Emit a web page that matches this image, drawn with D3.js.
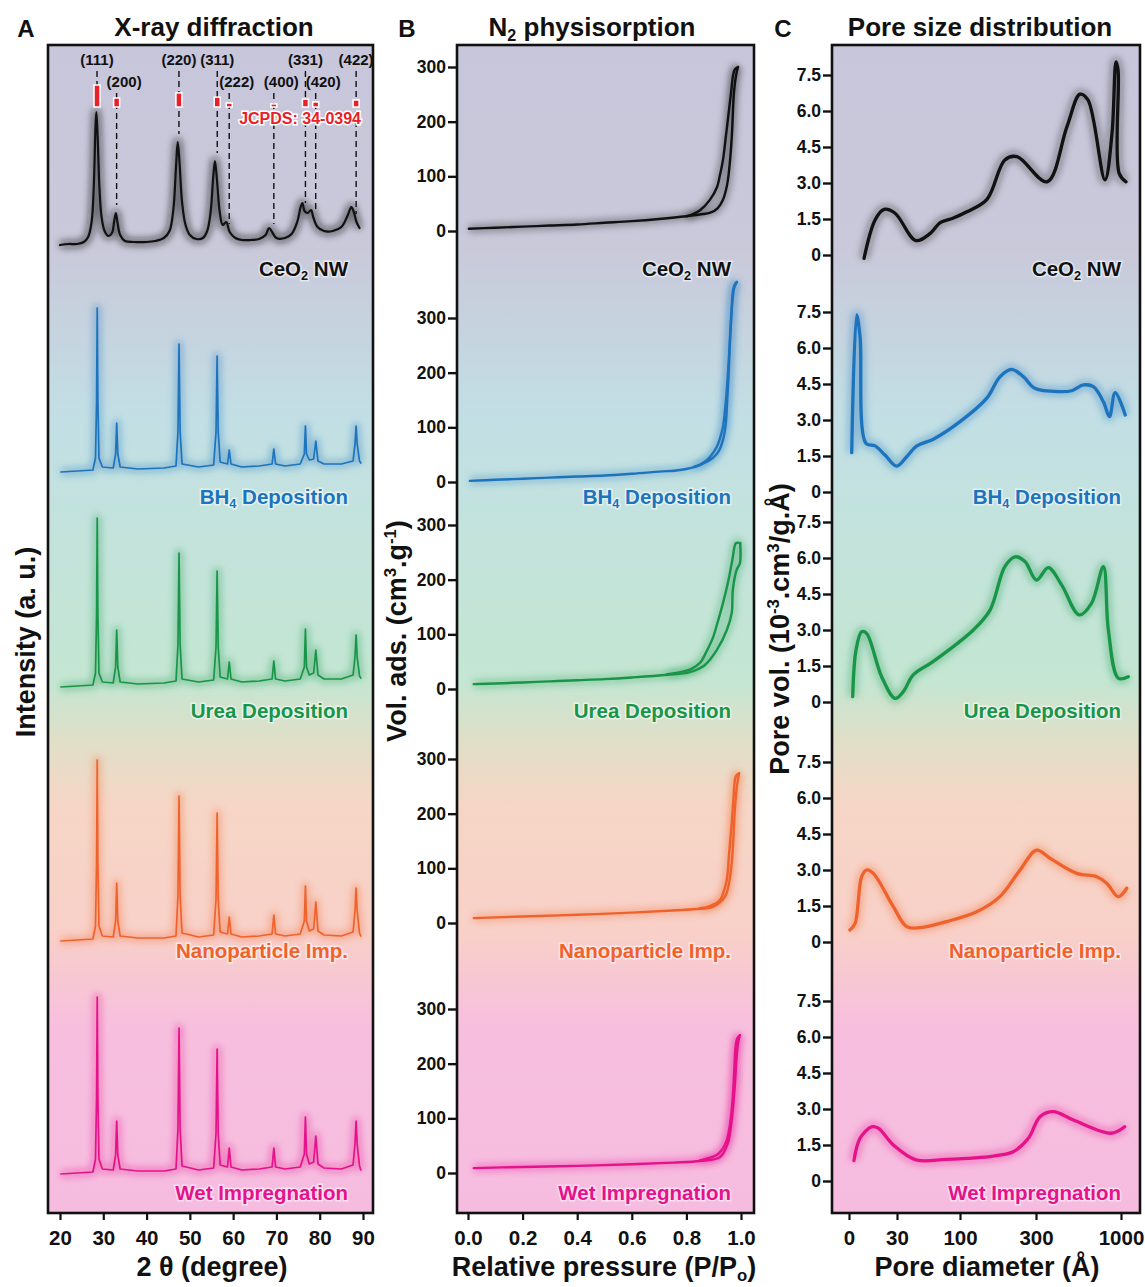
<!DOCTYPE html>
<html>
<head>
<meta charset="utf-8">
<script src="https://cdn.jsdelivr.net/npm/d3@7"></script>
<style>
  body { margin: 0; background: #fff; }
  text { font-family: "Liberation Sans", Arial, Helvetica, sans-serif; font-weight: bold; }
</style>
</head>
<body>
<script>
// ---------- data ----------
const sampleColors = ["#111111", "#1c74bd", "#17964a", "#f0622c", "#e5128b"];
const sampleLabels = [
  [{t: "CeO"}, {t: "2", sub: true}, {t: " NW"}],
  [{t: "BH"}, {t: "4", sub: true}, {t: " Deposition"}],
  [{t: "Urea Deposition"}],
  [{t: "Nanoparticle Imp."}],
  [{t: "Wet Impregnation"}]
];

// XRD reference reflections (JCPDS 34-0394)
const hklLabels = ["(111)", "(200)", "(220)", "(311)", "(222)", "(400)", "(331)", "(420)", "(422)"];
const hklPos = [28.55, 33.08, 47.48, 56.33, 59.09, 69.40, 76.70, 79.07, 88.41];
const hklInt = [100, 41, 64, 45, 18, 14, 36, 23, 32];
const hklLowRow = [false, true, false, false, true, true, false, true, false];

// XRD patterns [2theta, intensity a.u.]
const xrdCeO2 = [[20,2],[22,3],[24,3],[25.5,5],[26.5,10],[27.3,25],[27.8,60],[28.2,120],[28.4,135],[28.7,110],[29.1,60],[29.6,30],[30.3,16],[31.2,11],[32.0,14],[32.5,25],[32.9,34],[33.3,24],[33.9,12],[35,6],[37,5],[40,5],[42,6],[44,9],[45.3,16],[46.2,38],[46.8,80],[47.2,105],[47.6,85],[48.2,45],[49,22],[50,12],[51.5,8],[53,9],[54,16],[54.8,35],[55.4,70],[55.8,86],[56.3,65],[56.9,35],[57.6,22],[58.4,25],[59.2,15],[60.5,9],[62,7],[64,7],[66,8],[67.5,12],[68.3,19],[69,15],[70,9],[72,9],[73.5,13],[74.8,25],[75.6,40],[76,44],[76.5,36],[77.2,34],[78,37],[78.5,30],[79.5,20],[81,16],[83,16],[85,20],[86.5,32],[87.3,40],[87.8,36],[88.5,25],[89.2,19]];
const xrdBH4 = [[20.2,0],[24,1],[27.6,2],[28.2,14],[28.45,70],[28.6,164],[28.75,70],[29.0,14],[29.8,5],[32.3,4],[32.85,18],[33.1,49],[33.35,18],[33.9,5],[38,3],[44,4],[46.8,6],[47.25,40],[47.5,128],[47.75,40],[48.2,8],[52,5],[55.5,7],[56.05,40],[56.3,116],[56.55,40],[57.0,10],[58.7,8],[59.1,22],[59.5,8],[62,5],[66,6],[69.0,8],[69.4,23],[69.8,8],[72,6],[75.5,8],[76.45,18],[76.7,46],[76.95,18],[77.6,12],[78.6,13],[79.1,31],[79.6,11],[81,8],[85,8],[87.7,11],[88.15,28],[88.4,46],[88.65,28],[89.2,11],[89.5,9]];
const xrdUrea = [[20.2,0],[24,1],[27.6,2],[28.2,14],[28.45,72],[28.6,169],[28.75,72],[29.0,14],[29.8,5],[32.3,4],[32.85,20],[33.1,57],[33.35,20],[33.9,5],[38,3],[44,4],[46.8,6],[47.25,42],[47.5,134],[47.75,42],[48.2,8],[52,5],[55.5,7],[56.05,40],[56.3,116],[56.55,40],[57.0,10],[58.7,8],[59.1,25],[59.5,8],[62,5],[66,6],[69.0,8],[69.4,26],[69.8,8],[72,6],[75.5,8],[76.45,20],[76.7,58],[76.95,20],[77.6,12],[78.6,14],[79.1,37],[79.6,12],[81,8],[85,8],[87.7,12],[88.15,30],[88.4,52],[88.65,30],[89.2,11],[89.5,9]];
const xrdNano = [[20.2,0],[24,1],[27.6,2],[28.2,15],[28.45,78],[28.6,181],[28.75,78],[29.0,15],[29.8,5],[32.3,4],[32.85,20],[33.1,58],[33.35,20],[33.9,5],[38,3],[44,3],[46.8,5],[47.25,45],[47.5,145],[47.75,45],[48.2,8],[52,4],[55.5,6],[56.05,42],[56.3,128],[56.55,42],[57.0,9],[58.7,7],[59.1,24],[59.5,7],[62,4],[66,5],[69.0,7],[69.4,26],[69.8,7],[72,5],[75.5,7],[76.45,20],[76.7,55],[76.95,20],[77.6,10],[78.6,12],[79.1,39],[79.6,10],[81,6],[85,5],[87.7,9],[88.15,30],[88.4,53],[88.65,30],[89.2,8],[89.5,5]];
const xrdWet = [[20.2,0],[24,1],[27.6,2],[28.2,15],[28.45,76],[28.6,177],[28.75,76],[29.0,15],[29.8,5],[32.3,4],[32.85,19],[33.1,53],[33.35,19],[33.9,5],[38,3],[44,3],[46.8,5],[47.25,45],[47.5,146],[47.75,45],[48.2,8],[52,4],[55.5,6],[56.05,41],[56.3,125],[56.55,41],[57.0,9],[58.7,7],[59.1,26],[59.5,7],[62,4],[66,5],[69.0,7],[69.4,26],[69.8,7],[72,5],[75.5,7],[76.45,20],[76.7,57],[76.95,20],[77.6,10],[78.6,12],[79.1,38],[79.6,10],[81,6],[85,5],[87.7,9],[88.15,30],[88.4,53],[88.65,30],[89.2,8],[89.5,4]];
const xrdData = [xrdCeO2, xrdBH4, xrdUrea, xrdNano, xrdWet];

// N2 isotherms [P/P0, V cm3/g] adsorption and desorption branches
const adsCeO2 = [[0.003,4],[0.1,6],[0.2,8],[0.3,10],[0.4,12],[0.5,15],[0.6,18],[0.7,22],[0.8,27],[0.86,31],[0.89,34],[0.915,42],[0.934,57],[0.945,75],[0.952,93],[0.96,130],[0.967,179],[0.974,252],[0.982,285],[0.989,300]];
const desCeO2 = [[0.989,300],[0.978,296],[0.971,285],[0.964,255],[0.956,221],[0.945,175],[0.934,130],[0.922,100],[0.912,80],[0.886,57],[0.85,38],[0.82,30],[0.8,27]];
const adsBH4 = [[0.007,2],[0.1,4],[0.2,6],[0.3,8],[0.4,10],[0.5,12],[0.6,15],[0.7,19],[0.777,22],[0.85,31],[0.897,44],[0.92,58],[0.934,77],[0.944,105],[0.949,144],[0.955,200],[0.96,265],[0.966,320],[0.971,351],[0.978,362],[0.985,366]];
const desBH4 = [[0.985,366],[0.975,355],[0.969,333],[0.962,280],[0.953,205],[0.944,145],[0.934,101],[0.922,78],[0.911,64],[0.89,48],[0.875,40],[0.85,32],[0.83,28]];
const adsUrea = [[0.021,9],[0.1,10],[0.2,12],[0.3,14],[0.4,16],[0.5,18],[0.6,21],[0.73,26],[0.813,31],[0.868,44],[0.911,71],[0.948,108],[0.966,139],[0.97,181],[0.984,218],[0.996,230],[0.997,267]];
const desUrea = [[0.997,267],[0.982,267],[0.968,235],[0.954,199],[0.934,157],[0.915,123],[0.898,95],[0.875,70],[0.85,48],[0.815,36],[0.777,31],[0.73,27]];
const adsNano = [[0.021,9],[0.2,12],[0.4,15],[0.6,19],[0.75,23],[0.85,26],[0.898,30],[0.941,48],[0.955,70],[0.966,110],[0.972,155],[0.978,212],[0.985,250],[0.993,274]];
const desNano = [[0.993,274],[0.983,270],[0.978,262],[0.972,225],[0.966,183],[0.957,130],[0.948,79],[0.935,55],[0.923,42],[0.886,31],[0.85,27]];
const adsWet = [[0.021,9],[0.2,11],[0.4,13],[0.6,16],[0.75,19],[0.85,22],[0.923,29],[0.952,55],[0.963,85],[0.971,121],[0.978,165],[0.984,212],[0.99,240],[0.996,252]];
const desWet = [[0.996,252],[0.986,246],[0.98,230],[0.975,185],[0.969,133],[0.96,90],[0.948,60],[0.93,42],[0.911,33],[0.88,27],[0.85,23]];
const isoData = [[adsCeO2, desCeO2], [adsBH4, desBH4], [adsUrea, desUrea], [adsNano, desNano], [adsWet, desWet]];

// pore size distribution [pore diameter A, pore vol 1e-3 cm3/g.A]
const psdCeO2 = [[9.4,-0.14],[16.3,1.46],[21.9,1.9],[28.8,1.74],[51,0.6],[67,0.9],[78,1.35],[92,1.53],[118,1.8],[171,2.32],[218,3.96],[250,4.1],[391,3.05],[555,5.35],[662,6.7],[728,6.46],[868,3.13],[926,5.07],[959,8.05],[976,7.7],[985,3.4],[1041,3.05]];
const psdBH4 = [[1.7,1.64],[4.8,7.38],[6.9,6.47],[10.6,2.03],[16.3,1.92],[22.5,1.54],[29.8,1.08],[40.8,1.47],[52,1.92],[70.4,2.2],[100,2.93],[170,3.9],[205,4.8],[236,5.11],[267,4.8],[297,4.32],[498,4.18],[594,4.22],[690,4.46],[772,4.39],[855,3.76],[905,3.14],[952,4.14],[1035,3.21]];
const psdUrea = [[2.3,0.22],[4.4,2.17],[7.9,2.93],[11,2.86],[20.4,1.05],[28.8,0.15],[37,0.43],[48,1.13],[70,1.68],[135,3.0],[179,3.83],[218,5.64],[245,6.05],[271,5.85],[305,5.08],[401,5.6],[511,4.88],[656,3.63],[757,4.11],[855,5.64],[896,3.0],[978,0.99],[1060,1.05]];
const psdNano = [[0.6,0.5],[3.8,0.78],[7.9,2.72],[11,3.0],[15.2,2.86],[27.7,1.47],[40.8,0.64],[55.6,0.6],[85,0.85],[144,1.26],[205,1.89],[258,3.0],[305,3.83],[415,3.49],[635,2.86],[800,2.72],[882,2.45],[978,1.89],[1047,2.24]];
const psdWet = [[3.1,0.85],[6.9,1.78],[14.2,2.26],[18.3,2.2],[27.7,1.5],[51,0.88],[85,0.9],[188,1.04],[240,1.22],[280,1.78],[333,2.68],[443,2.89],[608,2.54],[917,1.99],[1030,2.26]];
const psdData = [psdCeO2, psdBH4, psdUrea, psdNano, psdWet];

// ticks
const xTicksA = [20, 30, 40, 50, 60, 70, 80, 90];
const xTicksB = [0, 0.2, 0.4, 0.6, 0.8, 1.0];
const yTicksB = [0, 100, 200, 300];
const xTicksC = [0, 30, 100, 300, 1000];
const yTicksC = [0, 1.5, 3.0, 4.5, 6.0, 7.5];

// ---------- layout ----------
const W = 1145, H = 1287;
const frameTop = 45, frameBottom = 1213;
const frames = [{x0: 48, x1: 373}, {x0: 457, x1: 754}, {x0: 832, x1: 1140}];
const baseA = [247, 472, 687, 941, 1174];
const baseB = [231, 482, 689, 923, 1173];
const baseC = [255, 492, 702, 942, 1181];
const labelBaseY = [276, 504, 718, 958, 1200];
const labelRight = [348, 731, 1121];
const bgStops = [[0, "#c8c6da"], [0.175, "#c9c9da"], [0.32, "#c2dfe5"], [0.42, "#c3e3dc"], [0.545, "#c4e6d2"], [0.595, "#e0dfc8"], [0.65, "#f6d6c6"], [0.76, "#f8d0c8"], [0.84, "#f7bfde"], [1, "#f6bce0"]];
const FONT = "'Liberation Sans', Arial, sans-serif";

const svg = d3.select("body").append("svg").attr("width", W).attr("height", H);
const defs = svg.append("defs");

const grad = defs.append("linearGradient").attr("id", "bg")
  .attr("gradientUnits", "userSpaceOnUse")
  .attr("x1", 0).attr("x2", 0).attr("y1", frameTop).attr("y2", frameBottom);
grad.selectAll("stop").data(bgStops).join("stop")
  .attr("offset", d => d[0]).attr("stop-color", d => d[1]);

defs.append("filter").attr("id", "glow")
  .attr("x", "-30%").attr("y", "-30%").attr("width", "160%").attr("height", "160%")
  .append("feGaussianBlur").attr("stdDeviation", 3.5);

// rich text with sub / sup tspans
function richText(sel, parts, size) {
  let shift = 0;
  parts.forEach(p => {
    const target = p.sub ? size * 0.18 : p.sup ? -size * 0.38 : 0;
    const ts = sel.append("tspan").text(p.t);
    if (target - shift !== 0) ts.attr("dy", target - shift);
    if (p.sub || p.sup) ts.attr("font-size", size * 0.62);
    shift = target;
  });
  return sel;
}

function glowLine(g, data, x, y, color, width, curve, haloOpacity) {
  const line = d3.line().x(d => x(d[0])).y(d => y(d[1])).curve(curve);
  g.append("path").attr("d", line(data)).attr("fill", "none")
    .attr("stroke", color).attr("stroke-width", width + 6).attr("stroke-opacity", haloOpacity)
    .attr("stroke-linejoin", "round").attr("filter", "url(#glow)");
  g.append("path").attr("d", line(data)).attr("fill", "none")
    .attr("stroke", color).attr("stroke-width", width)
    .attr("stroke-linejoin", "round").attr("stroke-linecap", "round");
}

// background frames
frames.forEach(f => {
  svg.append("rect").attr("x", f.x0).attr("y", frameTop)
    .attr("width", f.x1 - f.x0).attr("height", frameBottom - frameTop)
    .attr("fill", "url(#bg)");
});

// ---------- scales ----------
const xA = d3.scaleLinear().domain([20, 90]).range([60, 363]);
const xB = d3.scaleLinear().domain([0, 1]).range([468, 741]);
const xC = d3.scaleLinear().domain(xTicksC).range([849, 897, 960, 1036, 1121]);
const yA = baseA.map(b => d3.scaleLinear().domain([0, 100]).range([b, b - 100]));
const yB = baseB.map(b => d3.scaleLinear().domain([0, 300]).range([b, b - 164]));
const yC = baseC.map(b => d3.scaleLinear().domain([0, 7.5]).range([b, b - 180]));

// ---------- panel A: XRD ----------
const gA = svg.append("g");
xrdData.forEach((d, i) => {
  glowLine(gA, d, xA, yA[i], sampleColors[i], i === 0 ? 2.2 : 1.7,
    i === 0 ? d3.curveCatmullRom.alpha(0.5) : d3.curveLinear, i === 0 ? 0.5 : 0.35);
});

// reference lines / bars
const barY = d3.scaleLinear().domain([0, 100]).range([107, 85]);
hklPos.forEach((p, k) => {
  const near = xrdCeO2.filter(d => Math.abs(d[0] - p) < 0.6);
  const peak = d3.max(near, d => d[1]);
  gA.append("line")
    .attr("x1", xA(p)).attr("x2", xA(p))
    .attr("y1", hklLowRow[k] ? 93 : 71).attr("y2", yA[0](peak) - 8)
    .attr("stroke", "#111").attr("stroke-width", 1.4).attr("stroke-dasharray", "6,4");
});
gA.selectAll("rect.hkl").data(hklPos).join("rect").attr("class", "hkl")
  .attr("x", d => xA(d) - 3).attr("width", 6)
  .attr("y", (d, k) => barY(hklInt[k])).attr("height", (d, k) => barY(0) - barY(hklInt[k]))
  .attr("fill", "#e8202a").attr("stroke", "#fff").attr("stroke-width", 1.5);
gA.selectAll("text.hkl").data(hklPos).join("text").attr("class", "hkl")
  .attr("x", (d, k) => hklLowRow[k] ? xA(d) - 10 : xA(d))
  .attr("y", (d, k) => hklLowRow[k] ? 87 : 65)
  .attr("text-anchor", (d, k) => hklLowRow[k] ? "start" : "middle")
  .attr("font-size", 15).attr("fill", "#111")
  .text((d, k) => hklLabels[k]);
gA.append("text").attr("x", 361).attr("y", 124).attr("text-anchor", "end")
  .attr("font-size", 16).attr("fill", "#e8202a")
  .attr("stroke", "#fff").attr("stroke-width", 3).attr("paint-order", "stroke")
  .text("JCPDS: 34-0394");

// ---------- panel B: isotherms ----------
const gB = svg.append("g");
isoData.forEach((pair, i) => {
  pair.forEach(br => glowLine(gB, br, xB, yB[i], sampleColors[i], 2.4, d3.curveCatmullRom.alpha(0.5), 0.3));
  const ax = gB.append("g").attr("transform", `translate(${frames[1].x0},0)`)
    .call(d3.axisLeft(yB[i]).tickValues(yTicksB).tickSize(9).tickPadding(2));
  ax.select(".domain").remove();
  ax.selectAll("line").attr("stroke", "#111").attr("stroke-width", 2.4);
  ax.selectAll("text").attr("font-size", 17.5).attr("fill", "#111")
    .attr("font-family", FONT).attr("font-weight", "bold");
});

// ---------- panel C: PSD ----------
const gC = svg.append("g");
psdData.forEach((d, i) => {
  glowLine(gC, d, xC, yC[i], sampleColors[i], 3.3, d3.curveCatmullRom.alpha(0.5), 0.35);
  const ax = gC.append("g").attr("transform", `translate(${frames[2].x0},0)`)
    .call(d3.axisLeft(yC[i]).tickValues(yTicksC).tickSize(9).tickPadding(2)
      .tickFormat(v => v === 0 ? "0" : d3.format(".1f")(v)));
  ax.select(".domain").remove();
  ax.selectAll("line").attr("stroke", "#111").attr("stroke-width", 2.4);
  ax.selectAll("text").attr("font-size", 17.5).attr("fill", "#111")
    .attr("font-family", FONT).attr("font-weight", "bold");
});

// ---------- row labels ----------
[0, 1, 2].forEach(p => {
  sampleLabels.forEach((parts, i) => {
    const t = svg.append("text").attr("x", labelRight[p]).attr("y", labelBaseY[i])
      .attr("text-anchor", "end").attr("font-size", 20.5).attr("fill", sampleColors[i])
      .attr("stroke", "#fff").attr("stroke-opacity", 0.55).attr("stroke-width", 3)
      .attr("paint-order", "stroke");
    richText(t, parts, 20.5);
  });
});

// frames on top
frames.forEach(f => {
  svg.append("rect").attr("x", f.x0).attr("y", frameTop)
    .attr("width", f.x1 - f.x0).attr("height", frameBottom - frameTop)
    .attr("fill", "none").attr("stroke", "#111").attr("stroke-width", 2.6);
});

// ---------- bottom axes ----------
function bottomAxis(scale, ticks, fmt) {
  const ax = svg.append("g").attr("transform", `translate(0,${frameBottom})`)
    .call(d3.axisBottom(scale).tickValues(ticks).tickSize(7).tickPadding(10).tickFormat(fmt));
  ax.select(".domain").remove();
  ax.selectAll("line").attr("stroke", "#111").attr("stroke-width", 2.2);
  ax.selectAll("text").attr("font-size", 20.5).attr("fill", "#111")
    .attr("font-family", FONT).attr("font-weight", "bold");
}
bottomAxis(xA, xTicksA, d3.format("d"));
bottomAxis(xB, xTicksB, d3.format(".1f"));
bottomAxis(xC, xTicksC, d3.format("d"));

// ---------- titles ----------
const titles = [
  {x: 214, parts: [{t: "X-ray diffraction"}]},
  {x: 592, parts: [{t: "N"}, {t: "2", sub: true}, {t: " physisorption"}]},
  {x: 980, parts: [{t: "Pore size distribution"}]}
];
titles.forEach(d => {
  richText(svg.append("text").attr("x", d.x).attr("y", 36).attr("text-anchor", "middle")
    .attr("font-size", 26).attr("fill", "#111"), d.parts, 26);
});
[["A", 26], ["B", 407], ["C", 783]].forEach(d => {
  svg.append("text").attr("x", d[1]).attr("y", 37).attr("text-anchor", "middle")
    .attr("font-size", 24).attr("fill", "#111").text(d[0]);
});

const xTitles = [
  {x: 212, parts: [{t: "2 θ (degree)"}]},
  {x: 604, parts: [{t: "Relative pressure (P/P"}, {t: "o", sub: true}, {t: ")"}]},
  {x: 987, parts: [{t: "Pore diameter (Å)"}]}
];
xTitles.forEach(d => {
  richText(svg.append("text").attr("x", d.x).attr("y", 1276).attr("text-anchor", "middle")
    .attr("font-size", 27).attr("fill", "#111"), d.parts, 27);
});

const yTitles = [
  {x: 35, y: 642, parts: [{t: "Intensity (a. u.)"}]},
  {x: 406, y: 631, parts: [{t: "Vol. ads. (cm"}, {t: "3", sup: true}, {t: ".g"}, {t: "-1", sup: true}, {t: ")"}]},
  {x: 789, y: 629, parts: [{t: "Pore vol. (10"}, {t: "-3", sup: true}, {t: ".cm"}, {t: "3", sup: true}, {t: "/g.Å)"}]}
];
yTitles.forEach(d => {
  richText(svg.append("text").attr("transform", `translate(${d.x},${d.y}) rotate(-90)`)
    .attr("text-anchor", "middle").attr("font-size", 27).attr("fill", "#111"), d.parts, 27);
});
</script>
</body>
</html>
